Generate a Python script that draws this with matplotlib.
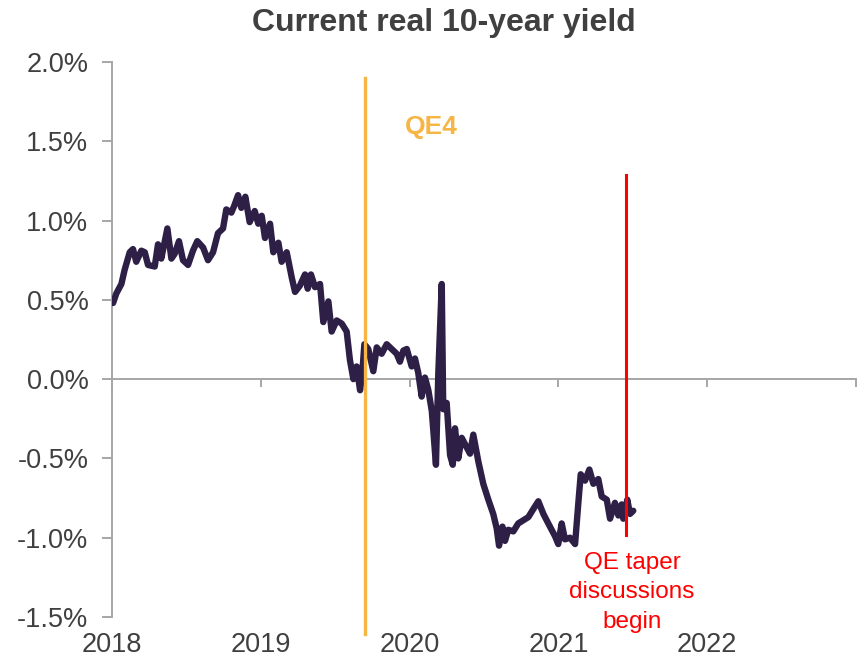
import matplotlib
matplotlib.use("Agg")
import matplotlib.pyplot as plt

# ---- data ----
years = [2018.007, 2018.029, 2018.063, 2018.085, 2018.119, 2018.141, 2018.163, 2018.197,
         2018.220, 2018.242, 2018.287, 2018.309, 2018.331, 2018.372, 2018.399, 2018.421,
         2018.450, 2018.477, 2018.511, 2018.544, 2018.573, 2018.612, 2018.645, 2018.679,
         2018.712, 2018.746, 2018.768, 2018.802, 2018.820, 2018.847, 2018.869, 2018.896,
         2018.925, 2018.959, 2018.983, 2019.006, 2019.028, 2019.062, 2019.084, 2019.118,
         2019.140, 2019.174, 2019.208, 2019.230, 2019.263, 2019.297, 2019.315, 2019.337,
         2019.364, 2019.398, 2019.420, 2019.454, 2019.476, 2019.510, 2019.544, 2019.577,
         2019.599, 2019.622, 2019.644, 2019.667, 2019.682, 2019.696, 2019.722, 2019.756,
         2019.779, 2019.812, 2019.846, 2019.880, 2019.913, 2019.935, 2019.958, 2019.981,
         2020.014, 2020.036, 2020.058, 2020.081, 2020.103, 2020.126, 2020.149, 2020.159,
         2020.177, 2020.193, 2020.216, 2020.226, 2020.249, 2020.272, 2020.290, 2020.305,
         2020.327, 2020.350, 2020.384, 2020.406, 2020.428, 2020.462, 2020.495, 2020.529,
         2020.562, 2020.585, 2020.601, 2020.624, 2020.641, 2020.663, 2020.697, 2020.730,
         2020.764, 2020.798, 2020.831, 2020.865, 2020.899, 2020.932, 2020.977, 2020.999,
         2021.022, 2021.044, 2021.078, 2021.112, 2021.134, 2021.150, 2021.179, 2021.208,
         2021.235, 2021.268, 2021.291, 2021.325, 2021.347, 2021.380, 2021.403, 2021.425,
         2021.436, 2021.463, 2021.481, 2021.503]
real_yield = [0.48, 0.54, 0.60, 0.69, 0.80, 0.82, 0.74, 0.81,
              0.80, 0.72, 0.71, 0.85, 0.76, 0.95, 0.76, 0.79,
              0.87, 0.75, 0.72, 0.81, 0.87, 0.83, 0.75, 0.80,
              0.92, 0.95, 1.07, 1.05, 1.09, 1.16, 1.08, 1.15,
              0.99, 1.06, 0.98, 1.03, 0.89, 0.98, 0.80, 0.86,
              0.74, 0.80, 0.64, 0.55, 0.59, 0.66, 0.57, 0.66,
              0.58, 0.60, 0.36, 0.49, 0.30, 0.37, 0.35, 0.30,
              0.12, 0.00, 0.08, -0.07, 0.04, 0.22, 0.19, 0.05,
              0.20, 0.16, 0.22, 0.19, 0.16, 0.11, 0.18, 0.19,
              0.08, 0.13, 0.04, -0.11, 0.01, -0.07, -0.20, -0.32,
              -0.54, 0.04, 0.60, -0.19, -0.15, -0.48, -0.54, -0.31,
              -0.50, -0.37, -0.43, -0.47, -0.35, -0.52, -0.66, -0.76,
              -0.85, -0.94, -1.05, -0.93, -1.02, -0.95, -0.96, -0.91,
              -0.89, -0.87, -0.82, -0.77, -0.85, -0.91, -0.99, -1.04,
              -0.91, -1.01, -1.00, -1.04, -0.78, -0.60, -0.64, -0.57,
              -0.66, -0.63, -0.74, -0.76, -0.88, -0.78, -0.86, -0.79,
              -0.88, -0.76, -0.85, -0.83]

year_ticks = [2018, 2019, 2020, 2021, 2022, 2023]
year_labels = ["2018", "2019", "2020", "2021", "2022", ""]
y_ticks = [-1.5, -1.0, -0.5, 0.0, 0.5, 1.0, 1.5, 2.0]

qe4_year = 2019.70
taper_year = 2021.454
taper_top, taper_bottom = 1.29, -0.98
qe4_top, qe4_bottom = 1.90, -1.61

# ---- styling ----
plt.rcParams['font.family'] = ['Liberation Sans', 'DejaVu Sans']
LINE = '#2E1F47'
GRID = '#A6A6A6'
TXT = '#404040'

fig = plt.figure(figsize=(8.65, 6.59), dpi=100)
ax = fig.add_axes([0.1295, 0.0637, 0.8601, 0.8423])

ax.plot(years, real_yield, color=LINE, lw=4.6, solid_joinstyle='round',
        solid_capstyle='round', zorder=3)

ax.plot([qe4_year, qe4_year], [qe4_bottom, qe4_top], color='#F6B544', lw=2.4,
        clip_on=False, zorder=4)
ax.plot([taper_year, taper_year], [taper_bottom, taper_top], color='#FF0000', lw=2.2,
        zorder=4)

ax.text(qe4_year + 0.27, 1.59, "QE4", color='#F6B544', fontsize=19,
        fontweight='bold', ha='left', va='center')
ax.text(taper_year + 0.04, -1.345, "QE taper\ndiscussions\nbegin", color='#FF0000',
        fontsize=17.5, ha='center', va='center', linespacing=1.42)

ax.set_xlim(2018, 2023)
ax.set_ylim(-1.5, 2.0)

for s in ['top', 'right']:
    ax.spines[s].set_visible(False)
ax.spines['bottom'].set_position(('data', 0))
ax.spines['bottom'].set_color(GRID)
ax.spines['left'].set_color(GRID)
ax.spines['bottom'].set_linewidth(1.4)
ax.spines['left'].set_linewidth(1.4)

ax.set_xticks(year_ticks)
ax.set_xticklabels([])
ax.tick_params(axis='x', direction='out', length=6, width=1.4, color=GRID)
ax.set_yticks(y_ticks)
ax.set_yticklabels([f"{v:.1f}%" for v in y_ticks])
ax.tick_params(axis='y', direction='out', length=7, width=1.4, color=GRID,
               labelsize=19.5, labelcolor=TXT, pad=10)

for yr, lab in zip(year_ticks, year_labels):
    if lab:
        ax.text(yr, -0.05, lab, transform=ax.get_xaxis_transform(), ha='center',
                va='center', fontsize=19.5, color=TXT, clip_on=False)

fig.text(0.513, 0.965, "Current real 10-year yield", ha='center', va='center',
         fontsize=23, fontweight='bold', color=TXT)

fig.savefig("out.png", dpi=100)
